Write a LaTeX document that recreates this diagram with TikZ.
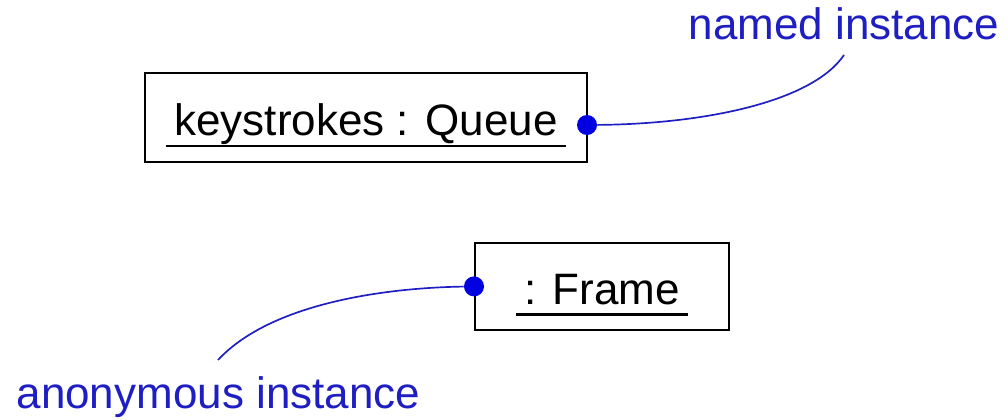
\documentclass[tikz,border=0pt]{standalone}
\usepackage{fontspec}
\setmainfont{Liberation Sans}
\definecolor{notecol}{RGB}{30,30,195}
\definecolor{dotcol}{RGB}{0,0,225}
\newcommand{\objname}[1]{\setbox0=\hbox{\kern0.2cm#1\kern0.2cm}\rlap{\rule[-0.29cm]{\wd0}{1.5pt}}\box0}
\begin{document}
\begin{tikzpicture}[every node/.style={font=\fontsize{31.3}{36}\selectfont},
  objbox/.style={draw, line width=1.4pt, inner sep=0pt, text height=0.95cm, text depth=0.07cm},
  pin/.style={circle, fill=dotcol, inner sep=0pt, minimum size=0.5cm},
  note/.style={text=notecol, anchor=base, inner sep=0pt},
  link/.style={draw=notecol, line width=1.2pt}]
  \useasboundingbox (0,0) rectangle (25.2,-10.475);

  % named object
  \node[objbox, minimum width=11.05cm, minimum height=2.225cm] (queue) at (9.15,-2.94) {\objname{keystrokes : Queue}};
  \node[pin] (qpin) at (14.675,-3.125) {};
  \node[note] (named) at (21.1,-0.975) {named instance};
  \coordinate (namedtip) at (21.1,-1.375);
  \draw[link] (qpin) .. controls (17.6,-3.1) and (20.3,-2.55) .. (namedtip);

  % anonymous object
  \node[objbox, minimum width=6.35cm, minimum height=2.175cm] (frame) at (15.05,-7.16) {\objname{: Frame}};
  \node[pin] (fpin) at (frame.west) {};
  \node[note] (anon) at (5.46,-10.22) {anonymous instance};
  \coordinate (anontip) at (5.45,-9.0);
  \draw[link] (fpin) .. controls (9.4,-7.2) and (6.7,-7.65) .. (anontip);
\end{tikzpicture}
\end{document}
